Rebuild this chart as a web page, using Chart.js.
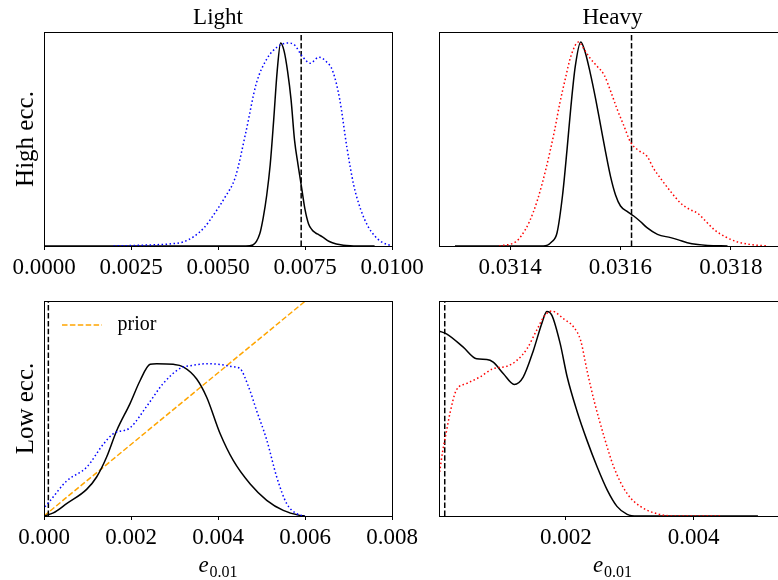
<!DOCTYPE html>
<html>
<head>
<meta charset="utf-8">
<script src="https://cdn.jsdelivr.net/npm/chart.js@4.4.1/dist/chart.umd.min.js"></script>
<style>
	body { margin: 0; background: #fff; }
	#wrap { position: relative; width: 778px; height: 580px; overflow: hidden; background: #fff; }
	#wrap canvas { position: absolute; left: 0; top: 0; }
</style>
</head>
<body>
<div id="wrap">
	<canvas id="lightHigh" width="800" height="580"></canvas>
	<canvas id="heavyHigh" width="800" height="580"></canvas>
	<canvas id="lightLow" width="800" height="580"></canvas>
	<canvas id="heavyLow" width="800" height="580"></canvas>
</div>
<script>
// ---- data (densities normalised to peak = 1) ----

// Light, high ecc.
var lightHighBlackX = [0, 0.0058, 0.0060, 0.0062, 0.0063, 0.0064, 0.0065, 0.0066, 0.0067, 0.0068, 0.0069, 0.0070, 0.0071, 0.0072, 0.0073, 0.0074, 0.0075, 0.0076, 0.0077, 0.0078, 0.0079, 0.0080, 0.0082, 0.0084, 0.0086, 0.0088, 0.0090, 0.0095];
var lightHighBlackY = [0, 0, 0.005, 0.06, 0.14, 0.25, 0.40, 0.62, 0.86, 1.0, 0.96, 0.86, 0.72, 0.52, 0.40, 0.29, 0.18, 0.11, 0.08, 0.065, 0.055, 0.045, 0.022, 0.01, 0.004, 0.001, 0, 0];
var lightHighBlueX = [0.0020, 0.0030, 0.0036, 0.0040, 0.0043, 0.0046, 0.0049, 0.0052, 0.0055, 0.0058, 0.0061, 0.0064, 0.0067, 0.0070, 0.0072, 0.0074, 0.00765, 0.0079, 0.0081, 0.0083, 0.0085, 0.0087, 0.0089, 0.0091, 0.0093, 0.0095, 0.0097, 0.0100];
var lightHighBlueY = [0, 0.005, 0.01, 0.02, 0.046, 0.09, 0.16, 0.24, 0.34, 0.56, 0.80, 0.92, 0.98, 1.0, 0.99, 0.94, 0.90, 0.93, 0.91, 0.86, 0.72, 0.49, 0.30, 0.18, 0.10, 0.05, 0.02, 0];
var lightHighTrue = 0.00739;

// Heavy, high ecc.
var heavyHighBlackX = [0.0313, 0.03146, 0.031475, 0.031485, 0.031495, 0.031503, 0.03151, 0.031518, 0.031528, 0.031536, 0.031545, 0.031555, 0.031564, 0.031573, 0.031582, 0.031591, 0.0316, 0.031612, 0.031624, 0.031636, 0.031648, 0.031667, 0.031691, 0.031705, 0.031721, 0.03174, 0.031758, 0.031794];
var heavyHighBlackY = [0, 0, 0.02, 0.065, 0.25, 0.47, 0.68, 0.88, 1.0, 0.95, 0.85, 0.72, 0.59, 0.46, 0.34, 0.25, 0.196, 0.17, 0.147, 0.12, 0.09, 0.057, 0.041, 0.03, 0.016, 0.007, 0.003, 0];
var heavyHighRedX = [0.03138, 0.03141, 0.03142, 0.031435, 0.03145, 0.031465, 0.03148, 0.03149, 0.0315, 0.03151, 0.031524, 0.031535, 0.031545, 0.031558, 0.03157, 0.031582, 0.031594, 0.031606, 0.031618, 0.031632, 0.031648, 0.03166, 0.031673, 0.03169, 0.031709, 0.031725, 0.03174, 0.031755, 0.03177, 0.03179, 0.031812, 0.03184, 0.031867];
var heavyHighRedY = [0, 0.02, 0.049, 0.12, 0.23, 0.38, 0.56, 0.70, 0.82, 0.93, 1.0, 0.96, 0.92, 0.88, 0.84, 0.76, 0.67, 0.59, 0.51, 0.47, 0.44, 0.38, 0.33, 0.27, 0.21, 0.18, 0.16, 0.12, 0.08, 0.045, 0.02, 0.006, 0];
var heavyHighTrue = 0.03162;

// Light, low ecc.
var lightLowBlackX = [0, 0.000215, 0.00052, 0.00098, 0.00121, 0.00144, 0.00167, 0.00198, 0.00221, 0.00244, 0.00259, 0.00297, 0.0032, 0.00351, 0.00374, 0.00405, 0.00435, 0.00474, 0.00512, 0.0055, 0.00588, 0.006];
var lightLowBlackY = [0, 0.02, 0.081, 0.175, 0.256, 0.387, 0.56, 0.74, 0.89, 0.996, 1.0, 0.996, 0.98, 0.90, 0.78, 0.54, 0.365, 0.21, 0.103, 0.037, 0.004, 0];
var lightLowBlueX = [0.00002, 0.00014, 0.00052, 0.00098, 0.00136, 0.00159, 0.00198, 0.00236, 0.00274, 0.00313, 0.00343, 0.00374, 0.00405, 0.00435, 0.0045, 0.0047, 0.00489, 0.00512, 0.00535, 0.00558, 0.00581, 0.006];
var lightLowBlueY = [0.06, 0.10, 0.23, 0.32, 0.47, 0.54, 0.58, 0.72, 0.87, 0.97, 0.99, 1.0, 0.995, 0.98, 0.97, 0.85, 0.69, 0.50, 0.256, 0.081, 0.015, 0];
var lightLowTrue = 0.0001;
var priorX = [0, 0.008];
var priorY = [0, 1.88];

// Heavy, low ecc.
var heavyLowBlackX = [0.00001, 0.000127, 0.00039, 0.0006, 0.00076, 0.00086, 0.00102, 0.00119, 0.00133, 0.00149, 0.00162, 0.0017, 0.00178, 0.00191, 0.00202, 0.00217, 0.00233, 0.00249, 0.00265, 0.0028, 0.00296, 0.00312, 0.00501];
var heavyLowBlackY = [0.902, 0.889, 0.824, 0.767, 0.764, 0.751, 0.694, 0.642, 0.678, 0.808, 0.938, 0.998, 0.979, 0.841, 0.678, 0.515, 0.369, 0.239, 0.125, 0.047, 0.008, 0, 0];
var heavyLowRedX = [0.00002, 0.00007, 0.00013, 0.00018, 0.00028, 0.00044, 0.00065, 0.00086, 0.00107, 0.00123, 0.00139, 0.00154, 0.00167, 0.00178, 0.00196, 0.00212, 0.00223, 0.00233, 0.00244, 0.0026, 0.00275, 0.00296, 0.00318, 0.00343, 0.0037, 0.00443];
var heavyLowRedY = [0.215, 0.32, 0.418, 0.499, 0.613, 0.646, 0.678, 0.719, 0.73, 0.759, 0.816, 0.906, 0.979, 1.0, 0.963, 0.922, 0.857, 0.711, 0.564, 0.385, 0.239, 0.109, 0.044, 0.011, 0, 0];
var heavyLowTrue = 0.0001;

var lightHighTicks = [0, 0.0025, 0.005, 0.0075, 0.01];
var heavyHighTicks = [0.0314, 0.0316, 0.0318];
var lightLowTicks = [0, 0.002, 0.004, 0.006, 0.008];
var heavyLowTicks = [0.002, 0.004];

var FONT = "'Liberation Serif', 'Times New Roman', serif";
var DOT = [1.5, 2.5];
var DASH = [5.5, 2.4];

function pts(xs, ys) {
	return xs.map(function (x, i) { return { x: x, y: ys[i] }; });
}

function curve(xs, ys, color, dash) {
	return {
		label: '',
		data: pts(xs, ys),
		borderColor: color,
		borderWidth: 1.5,
		borderDash: dash || [],
		cubicInterpolationMode: 'monotone',
		pointRadius: 0
	};
}

function truthLine(x, top) {
	return {
		label: '',
		data: [{ x: x, y: 0 }, { x: x, y: top }],
		borderColor: '#000',
		borderWidth: 1.5,
		borderDash: DASH,
		pointRadius: 0
	};
}

// axes frame drawn over the curves, like matplotlib spines
var framePlugin = {
	id: 'frame',
	afterDatasetsDraw: function (chart) {
		var a = chart.chartArea;
		var ctx = chart.ctx;
		ctx.save();
		ctx.strokeStyle = '#000';
		ctx.lineWidth = 1;
		ctx.strokeRect(Math.round(a.left) + 0.5, Math.round(a.top) + 0.5, Math.round(a.right - a.left), Math.round(a.bottom - a.top));
		ctx.restore();
	}
};

// x label with subscript: e_{0.01}
var xLabelPlugin = {
	id: 'xlabel',
	afterDraw: function (chart, args, opts) {
		if (!opts.display) return;
		var a = chart.chartArea;
		var ctx = chart.ctx;
		var cx = (a.left + a.right) / 2;
		ctx.save();
		ctx.fillStyle = '#000';
		ctx.textBaseline = 'alphabetic';
		ctx.font = 'italic 23px ' + FONT;
		var w1 = ctx.measureText('e').width;
		ctx.font = '16px ' + FONT;
		var w2 = ctx.measureText(opts.sub).width;
		var x0 = cx - (w1 + 1 + w2) / 2;
		ctx.font = 'italic 23px ' + FONT;
		ctx.fillText('e', x0, a.bottom + 56);
		ctx.font = '16px ' + FONT;
		ctx.fillText(opts.sub, x0 + w1 + 1, a.bottom + 61);
		ctx.restore();
	}
};

// legend inside the axes (upper left), with a dashed line sample
var lineLegendPlugin = {
	id: 'lineLegend',
	afterDatasetsDraw: function (chart, args, opts) {
		if (!opts.display) return;
		var a = chart.chartArea;
		var ctx = chart.ctx;
		var y = a.top + 24;
		chart.data.datasets.forEach(function (ds) {
			if (ds.label !== opts.label) return;
			var x = a.left + 18;
			ctx.save();
			ctx.strokeStyle = ds.borderColor;
			ctx.lineWidth = ds.borderWidth;
			ctx.setLineDash(ds.borderDash || []);
			ctx.beginPath();
			ctx.moveTo(x, y);
			ctx.lineTo(x + 40, y);
			ctx.stroke();
			ctx.setLineDash([]);
			ctx.fillStyle = '#000';
			ctx.font = '20px ' + FONT;
			ctx.textBaseline = 'middle';
			ctx.fillText(ds.label, x + 55.5, y);
			ctx.restore();
		});
	}
};

function makePanel(id, p) {
	var ctx = document.getElementById(id).getContext('2d');
	return new Chart(ctx, {
		type: 'line',
		data: { datasets: p.datasets },
		options: {
			responsive: false,
			animation: false,
			devicePixelRatio: 1,
			layout: { padding: p.pad, autoPadding: false },
			plugins: {
				legend: { display: false },
				title: {
					display: !!p.title,
					text: p.title || '',
					fullSize: false,
					color: '#000',
					font: { family: FONT, size: 23, weight: 'normal', lineHeight: 1.2 },
					padding: { top: 2, bottom: 0 }
				},
				tooltip: { enabled: false },
				xlabel: { display: !!p.xLabel, sub: '0.01' },
				lineLegend: { display: !!p.legendLabel, label: p.legendLabel }
			},
			scales: {
				x: {
					type: 'linear',
					min: p.xMin,
					max: p.xMax,
					afterBuildTicks: function (s) {
						s.ticks = p.xTicks.map(function (v) { return { value: v }; });
					},
					afterFit: function (s) {
						s.height = 40;
						s.paddingLeft = 0;
						s.paddingRight = 0;
					},
					grid: { display: true, drawOnChartArea: false, drawTicks: true, tickLength: 4, tickColor: '#000', tickWidth: 1 },
					border: { display: false },
					ticks: {
						color: '#000',
						font: { family: FONT, size: 23 },
						padding: 4,
						maxRotation: 0,
						autoSkip: false,
						callback: function (v) { return Number(v).toFixed(p.digits); }
					}
				},
				y: {
					display: !!p.yTitle,
					min: 0,
					max: p.yMax,
					afterFit: function (s) { s.width = p.yTitle ? 44 : 0; },
					grid: { display: false },
					border: { display: false },
					ticks: { display: false },
					title: {
						display: !!p.yTitle,
						text: p.yTitle || '',
						color: '#000',
						font: { family: FONT, size: 25 },
						padding: { top: 11, bottom: 0 }
					}
				}
			}
		},
		plugins: [framePlugin, xLabelPlugin, lineLegendPlugin]
	});
}

var yMaxLH = 1.054, yMaxHH = 1.049, yMaxLL = 1.412, yMaxHL = 1.049;

makePanel('lightHigh', {
	title: 'Light',
	yTitle: 'High ecc.',
	xMin: 0, xMax: 0.01, xTicks: lightHighTicks, digits: 4, yMax: yMaxLH,
	pad: { left: 0, top: 2.4, right: 408, bottom: 294 },
	datasets: [
		curve(lightHighBlueX, lightHighBlueY, '#0000ff', DOT),
		curve(lightHighBlackX, lightHighBlackY, '#000'),
		truthLine(lightHighTrue, yMaxLH)
	]
});

makePanel('heavyHigh', {
	title: 'Heavy',
	xMin: 0.031271, xMax: 0.0319, xTicks: heavyHighTicks, digits: 4, yMax: yMaxHH,
	pad: { left: 439, top: 2.4, right: 14, bottom: 294 },
	datasets: [
		curve(heavyHighRedX, heavyHighRedY, '#ff0000', DOT),
		curve(heavyHighBlackX, heavyHighBlackY, '#000'),
		truthLine(heavyHighTrue, yMaxHH)
	]
});

makePanel('lightLow', {
	yTitle: 'Low ecc.',
	xLabel: true,
	legendLabel: 'prior',
	xMin: 0, xMax: 0.008, xTicks: lightLowTicks, digits: 3, yMax: yMaxLL,
	pad: { left: 0, top: 301, right: 408, bottom: 24 },
	datasets: [
		curve(lightLowBlueX, lightLowBlueY, '#0000ff', DOT),
		curve(lightLowBlackX, lightLowBlackY, '#000'),
		truthLine(lightLowTrue, yMaxLL),
		{
			label: 'prior',
			data: pts(priorX, priorY),
			borderColor: 'orange',
			borderWidth: 1.5,
			borderDash: DASH,
			pointRadius: 0,
			clip: 0
		}
	]
});

makePanel('heavyLow', {
	xLabel: true,
	xMin: 0.00001, xMax: 0.00545, xTicks: heavyLowTicks, digits: 3, yMax: yMaxHL,
	pad: { left: 439, top: 301, right: 14, bottom: 24 },
	datasets: [
		curve(heavyLowRedX, heavyLowRedY, '#ff0000', DOT),
		curve(heavyLowBlackX, heavyLowBlackY, '#000'),
		truthLine(heavyLowTrue, yMaxHL)
	]
});
</script>
</body>
</html>
